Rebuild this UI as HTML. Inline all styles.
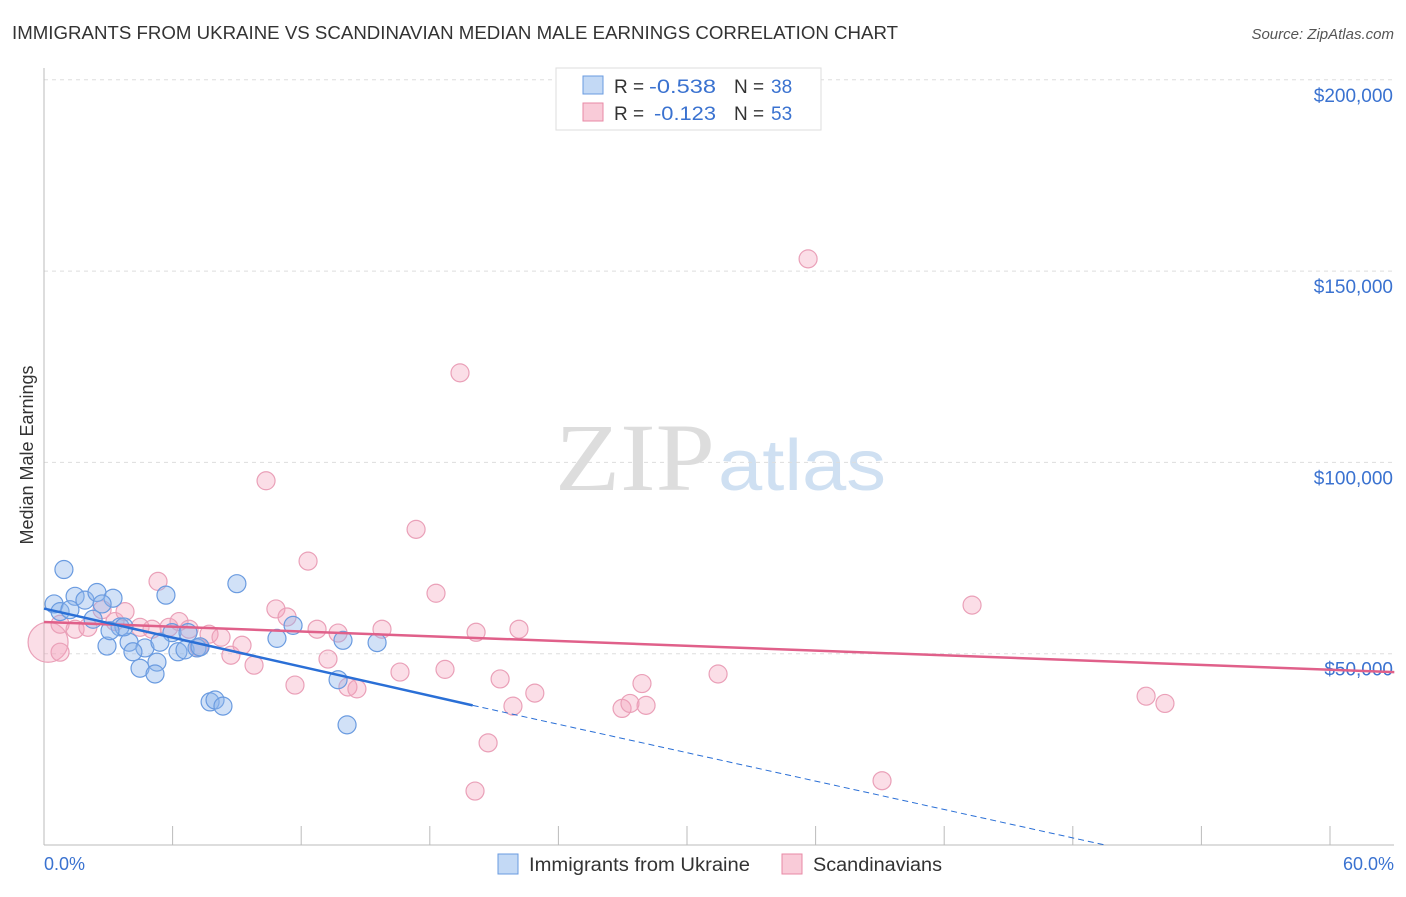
<!DOCTYPE html>
<html><head><meta charset="utf-8"><style>
body{margin:0;background:#fff;font-family:"Liberation Sans",sans-serif}
</style></head><body>
<svg id="c" width="1406" height="892" xmlns="http://www.w3.org/2000/svg" style="font-family:'Liberation Sans',sans-serif">
<text x="12" y="39" font-size="18" fill="#333" textLength="886" lengthAdjust="spacingAndGlyphs">IMMIGRANTS FROM UKRAINE VS SCANDINAVIAN MEDIAN MALE EARNINGS CORRELATION CHART</text>
<text x="1394" y="39" font-size="15" fill="#555" text-anchor="end" font-style="italic">Source: ZipAtlas.com</text>
<text x="33" y="455" font-size="18" fill="#333" text-anchor="middle" transform="rotate(-90 33 455)">Median Male Earnings</text>
<text x="555" y="490" font-size="96" fill="#ddd" textLength="160" lengthAdjust="spacingAndGlyphs" font-family="Liberation Serif">ZIP</text>
<text x="718" y="490" font-size="72" fill="#cfe0f2" textLength="168" lengthAdjust="spacingAndGlyphs">atlas</text>
<g id="grid"></g><g id="pts"></g><g id="lines"></g>
<g>
<rect x="556" y="68" width="265" height="62" fill="#fff" stroke="#ddd"/>
<rect x="583" y="76" width="20" height="18" fill="#c3d9f5" stroke="#6a9be0"/>
<rect x="583" y="103" width="20" height="18" fill="#f9cbd8" stroke="#e88aa6"/>
<text x="614" y="93" font-size="19" fill="#333">R =</text>
<text x="649" y="93" font-size="19" fill="#3a72d0" textLength="67" lengthAdjust="spacingAndGlyphs">-0.538</text>
<text x="734" y="93" font-size="19" fill="#333">N =</text>
<text x="771" y="93" font-size="19" fill="#3a72d0">38</text>
<text x="614" y="120" font-size="19" fill="#333">R =</text>
<text x="654" y="120" font-size="19" fill="#3a72d0" textLength="62" lengthAdjust="spacingAndGlyphs">-0.123</text>
<text x="734" y="120" font-size="19" fill="#333">N =</text>
<text x="771" y="120" font-size="19" fill="#3a72d0">53</text>
</g>
<g>
<rect x="498" y="854" width="20" height="20" fill="#c3d9f5" stroke="#6a9be0"/>
<text x="529" y="871" font-size="19" fill="#333" textLength="221" lengthAdjust="spacingAndGlyphs">Immigrants from Ukraine</text>
<rect x="782" y="854" width="20" height="20" fill="#f9cbd8" stroke="#e88aa6"/>
<text x="813" y="871" font-size="19" fill="#333" textLength="129" lengthAdjust="spacingAndGlyphs">Scandinavians</text>
</g>
<text x="44" y="870" font-size="18" fill="#3a72d0">0.0%</text>
<text x="1394" y="870" font-size="18" fill="#3a72d0" text-anchor="end">60.0%</text>
</svg>
<script>
const yTicks=[50000,100000,150000,200000];
const yTickLabels=["$50,000","$100,000","$150,000","$200,000"];
const blueX=[0.93,0.47,0.75,1.45,1.91,2.47,3.22,2.71,2.29,3.55,2.94,3.97,3.73,4.71,4.15,4.48,5.27,5.18,5.69,5.97,6.25,6.58,6.72,7.14,7.75,7.98,8.35,9.0,10.87,11.62,13.72,13.95,14.14,15.54,1.21,3.08,5.41,7.28];
const blueY=[72000,63000,61000,65000,64000,66000,64500,63000,59000,57000,52000,53000,57000,51500,50500,46200,47800,44700,65300,55500,50500,51000,55500,51500,37400,37900,36300,68300,54000,57400,43200,53500,31400,52900,61500,56000,53000,51800];
const pinkX=[0.19,0.75,1.45,2.05,2.71,3.31,3.78,4.48,5.04,5.32,5.83,6.3,6.77,7.23,7.7,8.26,8.72,9.24,9.8,10.36,10.82,11.34,11.71,12.32,12.74,13.25,13.72,14.18,14.6,15.77,16.61,17.36,18.29,18.71,19.41,20.16,20.72,21.28,21.88,22.16,22.9,20.11,26.97,27.34,27.9,28.09,31.45,35.65,39.1,43.3,51.42,52.3,0.75];
const pinkY=[53000,57700,56400,56900,61500,58400,61000,56900,56400,68900,56900,58400,56400,51700,55100,54300,49600,52200,47000,95200,61700,59600,41800,74200,56400,48600,55400,41300,40800,56400,45200,82500,65800,45900,123400,55600,26700,43400,36300,56400,39700,14100,35700,37000,42200,36500,44700,153200,16800,62700,38900,37000,50400];
const pinkTrend=[[0,58300],[63,45200]];
const blueTrendSolid=[[0,61800],[20,36500]];
const blueTrendDash=[[20,36500],[49.5,0]];
const X=v=>44+v/60*1286, Y=v=>845-v*0.003826;
const NS="http://www.w3.org/2000/svg";
function mk(t,a,p){const e=document.createElementNS(NS,t);for(const k in a)e.setAttribute(k,a[k]);p.appendChild(e);return e;}
const g=document.getElementById('grid');
yTicks.forEach((v,i)=>{const l=mk('line',{x1:44,x2:1394,y1:Y(v),y2:Y(v),stroke:'#ddd','stroke-dasharray':'4,4'},g);


const t=mk('text',{x:1393,y:Y(v)+22,'font-size':19,fill:'#3a72d0','text-anchor':'end'},g);t.textContent=yTickLabels[i];

});
mk('line',{x1:44,x2:44,y1:68,y2:845,stroke:'#bbb'},g);
mk('line',{x1:44,x2:1394,y1:845,y2:845,stroke:'#bbb'},g);
for(let i=0;i<=10;i++){const t=mk('line',{x1:X(i*6),x2:X(i*6),y1:826,y2:845,stroke:'#bbb'},g);

}
const p=document.getElementById('pts');
pinkX.forEach((x,i)=>{const c=mk('circle',{cx:X(x),cy:Y(pinkY[i]),r:i==0?20:9,fill:'rgba(244,160,186,0.35)',stroke:'#eaa0b8','stroke-width':1.2},p);

});
blueX.forEach((x,i)=>{const c=mk('circle',{cx:X(x),cy:Y(blueY[i]),r:9,fill:'rgba(140,180,235,0.4)',stroke:'#6a9be0','stroke-width':1.2},p);

});
const L=document.getElementById('lines');
function ln(a,st,w,d,n){const e=mk('line',{x1:X(a[0][0]),y1:Y(a[0][1]),x2:X(a[1][0]),y2:Y(a[1][1]),stroke:st,'stroke-width':w},L);if(d)e.setAttribute('stroke-dasharray',d);

}
ln(pinkTrend,'#e0608a',2.5,null,'scandinavian-trendline');
ln(blueTrendSolid,'#2a6fd6',2.5,null,'ukraine-trendline');
ln(blueTrendDash,'#2a6fd6',1,'6,4','ukraine-trendline-extension');
</script>
</body></html>
